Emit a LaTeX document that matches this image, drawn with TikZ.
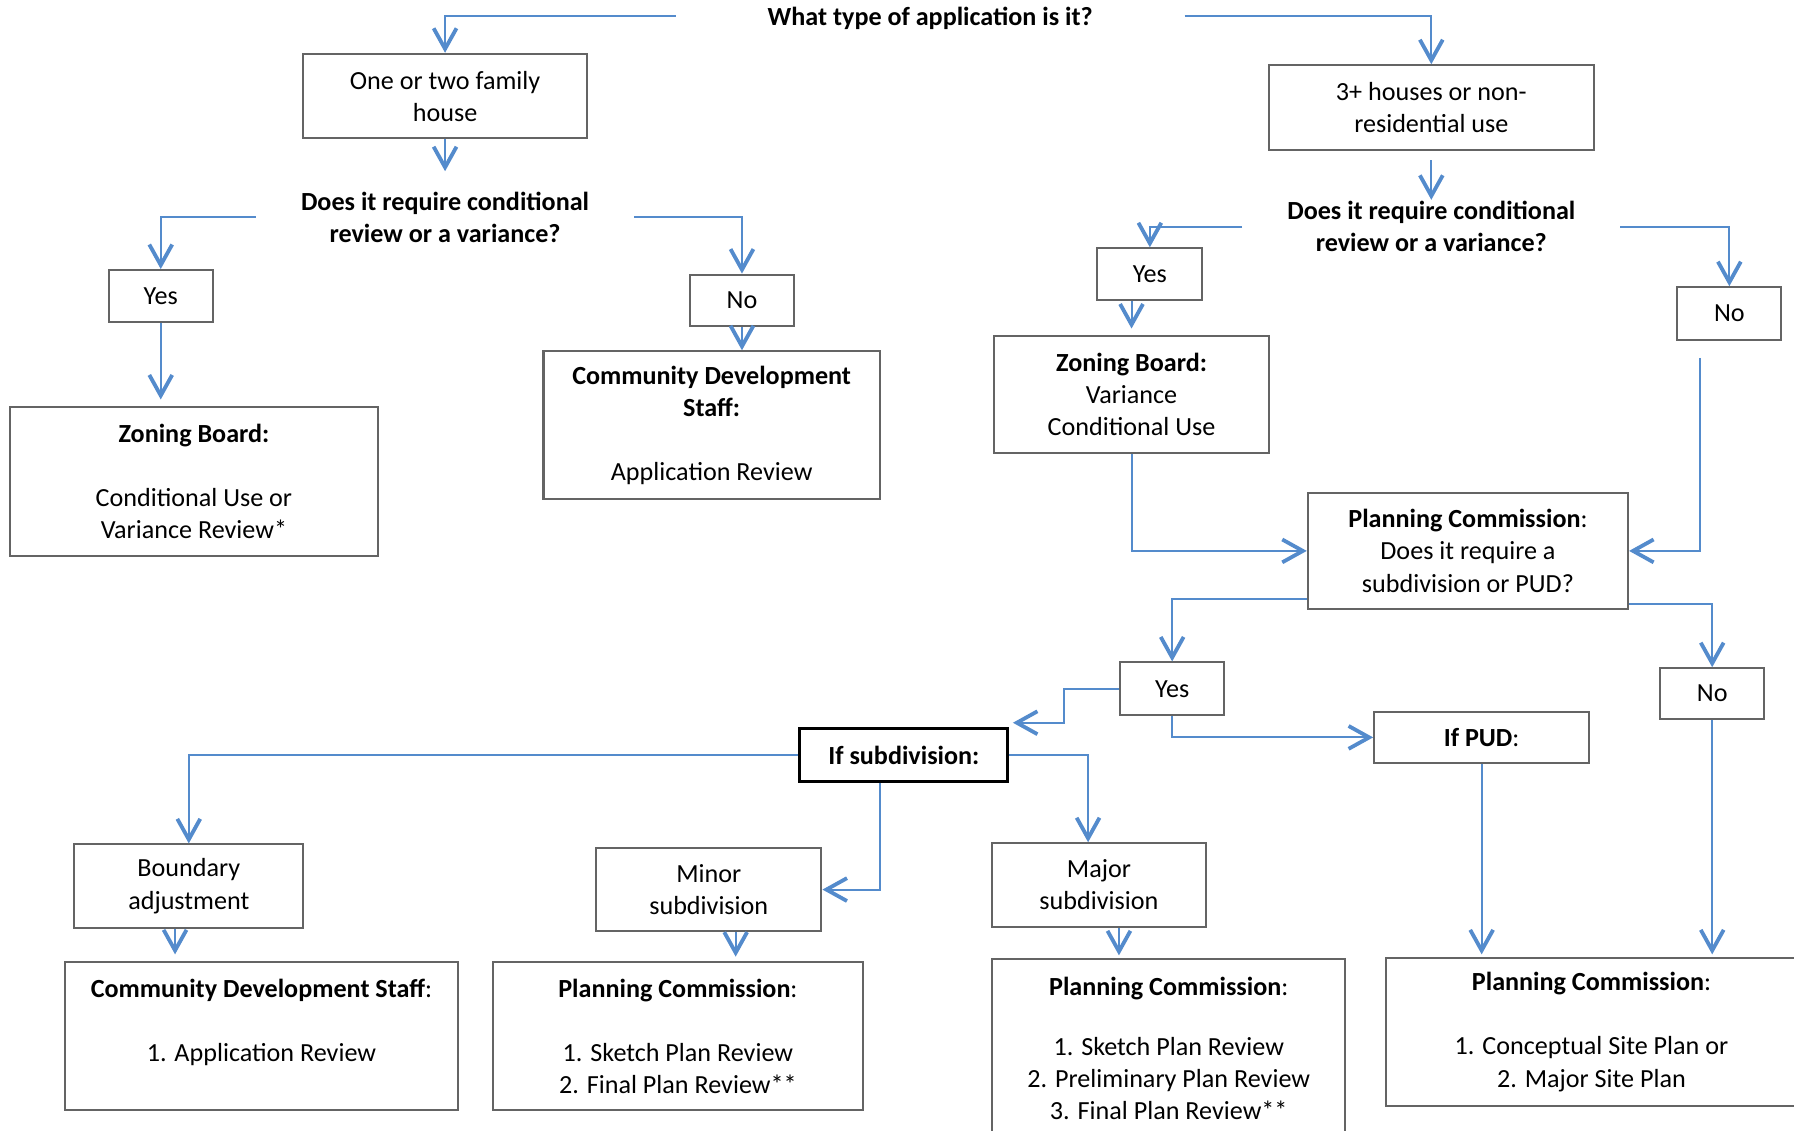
\documentclass[tikz,border=0pt]{standalone}
\usepackage{fontspec}
\setmainfont{Carlito}
\usetikzlibrary{arrows.meta,positioning}
\definecolor{flowblue}{RGB}{84,139,204}
\definecolor{boxgray}{RGB}{100,100,100}

\begin{document}
\begin{tikzpicture}[
        x=0.02cm, y=-0.02cm,
        font=\fontsize{13}{15.94}\selectfont,
        box/.style={rectangle, draw=boxgray, line width=1pt, align=center, inner sep=0pt},
        qtext/.style={align=center, font=\fontsize{13}{15.94}\selectfont\bfseries, inner sep=0pt},
        flow/.style={draw=flowblue, line width=1pt, -{Straight Barb[length=0.36cm, width=0.4cm, line width=1.9pt]}}
    ]
    \useasboundingbox (0,0) rectangle (1568,988);

    \node[qtext, minimum width=8.88cm] (type) at (813,16) {What type of application is it?};

    \node[box, minimum width=4.96cm, minimum height=1.48cm] (small) at (389,84) {One or two family\\house};
    \node[qtext, minimum width=6.6cm, minimum height=1.6cm] (condA) at (389,190) {Does it require conditional\\review or a variance?};
    \node[box, minimum width=1.82cm, minimum height=0.9cm] (yesA) at (140.5,258.5) {Yes};
    \node[box, minimum width=6.42cm, minimum height=2.6cm] (zoneA) at (169.5,421) {
        \textbf{Zoning Board:}\\[0.56cm]
        Conditional Use or\\
        Variance Review*
    };
    \node[box, minimum width=1.82cm, minimum height=0.9cm] (noA) at (648.5,262.5) {No};
    \node[box, minimum width=5.88cm, minimum height=2.58cm] (staffA) at (622,371.5) {
        \textbf{Community Development}\\
        \textbf{Staff:}\\[0.56cm]
        Application Review
    };

    \node[box, minimum width=5.68cm, minimum height=1.48cm] (large) at (1251,94) {3+ houses or non-\\residential use};
    \node[qtext, minimum width=6.6cm, minimum height=0.92cm] (condB) at (1251,198) {Does it require conditional\\review or a variance?};
    \node[box, minimum width=1.84cm, minimum height=0.9cm] (yesB) at (1005,239.5) {Yes};
    \node[box, minimum width=4.8cm, minimum height=2.04cm] (zoneB) at (989,345) {
        \textbf{Zoning Board:}\\
        Variance\\
        Conditional Use
    };
    \node[box, minimum width=1.82cm, minimum height=0.92cm] (noB) at (1511.5,274) {No};
    \node[box, minimum width=5.6cm, minimum height=2.02cm] (planQ) at (1283,481.5) {
        \textbf{Planning Commission}:\\
        Does it require a\\
        subdivision or PUD?
    };
    \node[box, minimum width=1.82cm, minimum height=0.92cm] (yesC) at (1024.5,602) {Yes};
    \node[box, minimum width=1.82cm, minimum height=0.88cm] (noC) at (1496.5,606) {No};

    \node[box, draw=black, line width=1.5pt, minimum width=3.64cm, minimum height=0.92cm] (subdiv) at (790,660) {\textbf{If subdivision:}};
    \node[box, minimum width=3.76cm, minimum height=0.9cm] (pud) at (1295,644.5) {\textbf{If PUD}:};

    \node[box, minimum width=4cm, minimum height=1.46cm] (bound) at (165,774.5) {Boundary\\adjustment};
    \node[box, minimum width=6.86cm, minimum height=2.58cm] (staffB) at (228.5,905.5) {
        \textbf{Community Development Staff}:\\[0.56cm]
        1. Application Review\\
        \mbox{}
    };
    \node[box, minimum width=3.94cm, minimum height=1.46cm] (minor) at (619.5,777.5) {Minor\\subdivision};
    \node[box, minimum width=6.46cm, minimum height=2.58cm] (planA) at (592.5,905.5) {
        \textbf{Planning Commission}:\\[0.56cm]
        1. Sketch Plan Review\\
        2. Final Plan Review**
    };
    \node[box, minimum width=3.74cm, minimum height=1.46cm] (major) at (960.5,773.5) {Major\\subdivision};
    \node[box, anchor=north, minimum width=6.18cm, minimum height=3.14cm] (planB) at (1021.5,837) {
        \textbf{Planning Commission}:\\[0.48cm]
        1. Sketch Plan Review\\
        2. Preliminary Plan Review\\
        3. Final Plan Review**
    };
    \node[box, minimum width=7.2cm, minimum height=2.6cm] (planC) at (1391,902) {
        \textbf{Planning Commission}:\\[0.56cm]
        1. Conceptual Site Plan or\\
        2. Major Site Plan
    };

    \draw[flow] ([yshift=0.04cm]type.west) -| (small.north);
    \draw[flow] ([yshift=0.04cm]type.east) -| (large.north);
    \draw[flow] (small.south) -- (condA.north);
    \draw[flow] (condA.west) -| (yesA.north);
    \draw[flow] (condA.east) -| (noA.north);
    \draw[flow] (yesA.south) -- ([yshift=0.12cm]yesA.south |- zoneA.north);
    \draw[flow] (noA.south) -- (noA.south |- staffA.north);

    \draw[flow, shorten <=0.16cm] (large.south) -- (condB.north);
    \draw[flow] (condB.west) -| (yesB.north);
    \draw[flow] (condB.east) -| (noB.north);
    \draw[flow] (zoneB.north |- yesB.south) -- ([yshift=0.12cm]zoneB.north);
    \draw[flow] (zoneB.south) |- (planQ.west);
    \coordinate (noBdrop) at ([xshift=-0.51cm, yshift=-0.3cm]noB.south);
    \draw[flow] (noBdrop) |- (planQ.east);
    \draw[flow] ([yshift=0.18cm]planQ.south west) -| (yesC.north);
    \draw[flow] ([yshift=0.1cm]planQ.south east) -| (noC.north);

    \draw[flow] (yesC.west) -- ++(-0.96cm,0) |- ([shift={(0.06cm,0.08cm)}]subdiv.north east);
    \draw[flow] (yesC.south) |- (pud.west);
    \draw[flow] (noC.south) -- ([yshift=0.04cm]noC.south |- planC.north);
    \draw[flow] (pud.south) -- ([yshift=0.04cm]pud.south |- planC.north);

    \draw[flow] (subdiv.west) -| (bound.north);
    \draw[flow] ([xshift=-0.42cm]subdiv.south) |- (minor.east);
    \draw[flow] (subdiv.east) -| ([xshift=-0.19cm]major.north);
    \draw[flow] ([xshift=-0.24cm]bound.south) -- ([xshift=-0.24cm, yshift=0.12cm]bound.south |- staffB.north);
    \draw[flow] ([xshift=0.47cm]minor.south) -- ([xshift=0.47cm, yshift=0.08cm]minor.south |- planA.north);
    \draw[flow] ([xshift=0.35cm]major.south) -- ([xshift=0.35cm, yshift=0.04cm]major.south |- planB.north);
\end{tikzpicture}
\end{document}
